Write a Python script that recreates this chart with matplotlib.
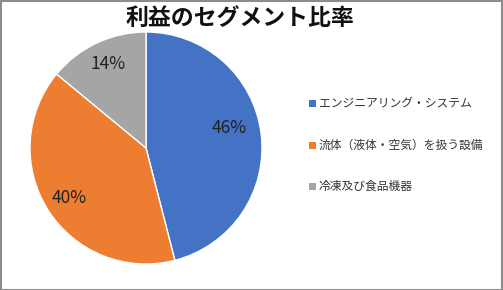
import matplotlib
matplotlib.use("Agg")
import matplotlib.pyplot as plt
from matplotlib.patches import Rectangle

plt.rcParams['font.family'] = ['Noto Sans CJK JP', 'DejaVu Sans']

categories = ["エンジニアリング・システム", "流体（液体・空気）を扱う設備", "冷凍及び食品機器"]
values = [46, 40, 14]
colors = ["#4472C4", "#ED7D31", "#A5A5A5"]
title = "利益のセグメント比率"

# label placement (fraction of radius) as in reference
label_pos = [(0.72, 0.17), (-0.66, -0.43), (-0.33, 0.72)]

W, H = 503, 290
fig = plt.figure(figsize=(W/100, H/100), dpi=100)
fig.patch.set_facecolor("white")

# pie axes: center (146,148), radius 116 px
cx, cy, r = 146, 148, 116
ax = fig.add_axes([(cx - r)/W, (H - cy - r)/H, 2*r/W, 2*r/H])
wedges, texts = ax.pie(values, colors=colors, startangle=90, counterclock=False,
                       wedgeprops=dict(edgecolor="white", linewidth=1.0))
ax.set_xlim(-1, 1)
ax.set_ylim(-1, 1)
ax.set_aspect("equal")
for v, (px, py) in zip(values, label_pos):
    ax.text(px, py, f"{v}%", ha="center", va="center", fontsize=12.5, color="#222222")

fig.text(240/W, 1 - 18/H, title, ha="center", va="center", fontsize=16.5,
         fontweight="bold", color="#111111")

# legend
ys = [103, 145, 186]
for cat, col, y in zip(categories, colors, ys):
    fig.patches.append(Rectangle((309/W, 1 - (y + 4)/H), 7/W, 7/H,
                                 transform=fig.transFigure, facecolor=col, edgecolor="none"))
    fig.text(319/W, 1 - y/H, cat, ha="left", va="center", fontsize=8.5, color="#333333")

# border
fig.patches.append(Rectangle((0.5/W, 0.5/H), (W-1.5)/W, (H-1.5)/H, transform=fig.transFigure,
                             facecolor="none", edgecolor="#8C8C8C", linewidth=1.5))

fig.savefig("out.png", dpi=100, facecolor="white")
